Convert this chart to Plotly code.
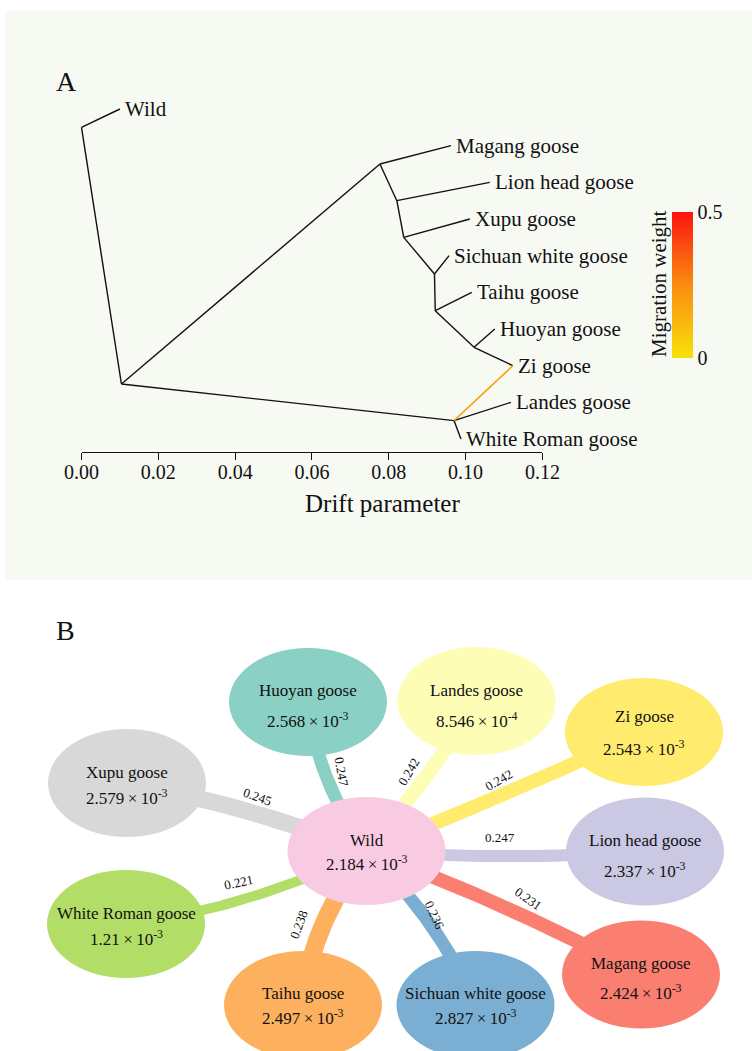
import numpy as np
import plotly.graph_objects as go
from plotly.colors import sample_colorscale

W, H = 752, 1051
SERIF = "Liberation Serif, Times New Roman, serif"

# ---------------- Panel A: TreeMix maximum-likelihood tree ----------------
tip_names = ["Wild", "Magang goose", "Lion head goose", "Xupu goose",
             "Sichuan white goose", "Taihu goose", "Huoyan goose", "Zi goose",
             "Landes goose", "White Roman goose"]
tip_drift = [0.0100, 0.0962, 0.1063, 0.1011, 0.0957, 0.1016, 0.1076, 0.1123,
             0.1118, 0.0988]

# internal node -> (drift, first child, second child)
internal_nodes = {
    "root": (0.0000, "Wild", "n1"),
    "n1": (0.0104, "n2", "n8"),
    "n2": (0.0777, "Magang goose", "n3"),
    "n3": (0.0821, "Lion head goose", "n4"),
    "n4": (0.0839, "Xupu goose", "n5"),
    "n5": (0.0919, "Sichuan white goose", "n6"),
    "n6": (0.0921, "Taihu goose", "n7"),
    "n7": (0.1022, "Huoyan goose", "Zi goose"),
    "n8": (0.0970, "Landes goose", "White Roman goose"),
}

migration_source = "n8"
migration_target = "Zi goose"
migration_weight = 0.18

drift_ticks = [0.00, 0.02, 0.04, 0.06, 0.08, 0.10, 0.12]
weight_ticks = [0, 0.5]

# ---------------- Panel B: Fst network around the wild population ----------------
hub_name = "Wild"
hub_mantissa, hub_exponent = 2.184, -3
breeds = ["Huoyan goose", "Landes goose", "Zi goose", "Lion head goose",
          "Magang goose", "Sichuan white goose", "Taihu goose",
          "White Roman goose", "Xupu goose"]
breed_mantissa = [2.568, 8.546, 2.543, 2.337, 2.424, 2.827, 2.497, 1.21, 2.579]
breed_exponent = [-3, -4, -3, -3, -3, -3, -3, -3, -3]
edge_weight = [0.247, 0.242, 0.242, 0.247, 0.231, 0.236, 0.238, 0.221, 0.245]

# ---------------- styling / layout ----------------
heat_scale = [[0.0, "#f7e20a"], [0.5, "#f98c10"], [1.0, "#fb1510"]]
hub_color = "#f9cbe3"
breed_style = {
    # colour, node offset from hub (px), band width, band bend, label (x, y, angle), text dy
    "Huoyan goose":        ("#8ad0c4", (-58.5, -149), 13, (-22, 0),  (342, 772, 80),  (-12, 18)),
    "Landes goose":        ("#fdfdb6", (110, -150),   14, (10, 0),   (408, 772, -60), (-11, 19)),
    "Zi goose":            ("#ffec6e", (277.5, -119), 14, (0, 4),    (498, 780, -30), (-16, 16)),
    "Lion head goose":     ("#cac8e2", (278.5, 0.5),  12, (0, 10),   (500, 837, 0),   (-11.5, 18.5)),
    "Magang goose":        ("#fb7f71", (274.5, 123.5), 14, (4, -10), (528, 898, 35),  (-11.5, 17.5)),
    "Sichuan white goose": ("#7aaed2", (109, 154),    13, (18, -8),  (435, 915, 65),  (-12, 12)),
    "Taihu goose":         ("#fdb05e", (-63.5, 154),  18, (-26, 0),  (298, 925, -70), (-12, 12)),
    "White Roman goose":   ("#b2dd66", (-240.5, 73),  10, (0, 22),   (238, 882, -12), (-11, 14)),
    "Xupu goose":          ("#d8d8d8", (-239.5, -68), 17, (0, -12),  (257, 796, 20),  (-11, 14)),
}
hub_xy = np.array([366.5, 851.0])
RX, RY = 79, 54


def px(x, y):
    """Pixel position -> paper coordinates."""
    return x / W, 1 - y / H


def tip_indices(node):
    if node in tip_names:
        return [tip_names.index(node)]
    _, a, b = internal_nodes[node]
    return tip_indices(a) + tip_indices(b)


node_x = dict(zip(tip_names, tip_drift))
node_y = {n: float(i) for i, n in enumerate(tip_names)}
for n, (d, a, b) in internal_nodes.items():
    node_x[n] = d
    node_y[n] = (max(tip_indices(a)) + min(tip_indices(b))) / 2

fig = go.Figure()

# light background behind panel A
x0, y1 = px(5, 11)
x1, y0 = px(W, 580)
fig.add_shape(type="rect", xref="paper", yref="paper", x0=x0, x1=1, y0=y0, y1=y1,
              fillcolor="#f7f9f3", line_width=0, layer="below")

# tree branches
bx, by = [], []
for n, (d, a, b) in internal_nodes.items():
    for c in (a, b):
        bx += [node_x[n], node_x[c], None]
        by += [node_y[n], node_y[c], None]
fig.add_trace(go.Scatter(x=bx, y=by, mode="lines", xaxis="x2", yaxis="y2",
                         line=dict(color="#111111", width=1.4), hoverinfo="skip"))

# migration edge
mig_color = sample_colorscale(heat_scale, [migration_weight / 0.5])[0]
fig.add_trace(go.Scatter(x=[node_x[migration_source], node_x[migration_target]],
                         y=[node_y[migration_source], node_y[migration_target]],
                         mode="lines", xaxis="x2", yaxis="y2",
                         line=dict(color=mig_color, width=1.6), hoverinfo="skip"))

# tip labels
for name in tip_names:
    fig.add_annotation(x=node_x[name], y=node_y[name], xref="x2", yref="y2",
                       text=name, showarrow=False, xanchor="left", yanchor="middle",
                       xshift=3, font=dict(family=SERIF, size=21, color="#111111"))

# migration weight colour bar
fig.add_trace(go.Scatter(
    x=[0.05], y=[0.5], mode="markers", xaxis="x", yaxis="y", hoverinfo="skip",
    marker=dict(size=1, opacity=0, color=[0.25], colorscale=heat_scale,
                cmin=0, cmax=0.5, showscale=True,
                colorbar=dict(x=672 / W, xanchor="left", y=1 - 358 / H, yanchor="bottom",
                              lenmode="pixels", len=146, thicknessmode="pixels",
                              thickness=21, xpad=0, ypad=0, outlinewidth=0,
                              tickvals=weight_ticks, ticktext=["0", "0.5"], ticks="",
                              tickfont=dict(family=SERIF, size=20, color="#111111")))))

ax, ay = px(659, 284)
fig.add_annotation(x=ax, y=ay, xref="paper", yref="paper", text="Migration weight",
                   textangle=-90, showarrow=False, xanchor="center", yanchor="middle",
                   font=dict(family=SERIF, size=21, color="#111111"))

ax, ay = px(382, 503)
fig.add_annotation(x=ax, y=ay, xref="paper", yref="paper", text="Drift parameter",
                   showarrow=False, xanchor="center", yanchor="middle",
                   font=dict(family=SERIF, size=25, color="#111111"))

for letter, (lx, ly) in {"A": (54, 82), "B": (54, 630)}.items():
    ax, ay = px(lx, ly)
    fig.add_annotation(x=ax, y=ay, xref="paper", yref="paper", text=letter,
                       showarrow=False, xanchor="left", yanchor="middle",
                       font=dict(family=SERIF, size=28, color="#111111"))


# ---------------- Panel B drawing ----------------
def band_polygon(p0, p2, bend, width, n=60):
    p0 = np.asarray(p0, float)
    p2 = np.asarray(p2, float)
    p1 = (p0 + p2) / 2 + np.asarray(bend, float)
    t = np.linspace(0, 1, n)[:, None]
    pts = (1 - t) ** 2 * p0 + 2 * (1 - t) * t * p1 + t ** 2 * p2
    der = 2 * (1 - t) * (p1 - p0) + 2 * t * (p2 - p1)
    nrm = np.column_stack([-der[:, 1], der[:, 0]])
    nrm /= np.linalg.norm(nrm, axis=1)[:, None]
    left = pts + nrm * width / 2
    right = pts - nrm * width / 2
    poly = np.vstack([left, right[::-1], left[:1]])
    return poly[:, 0], poly[:, 1]


def value_text(m, e):
    return f"{m:g}\u2009×\u200910<sup>{e}</sup>"


node_centres = {}
for name in breeds:
    color, off, width, bend, _, _ = breed_style[name]
    centre = hub_xy + np.array(off)
    node_centres[name] = centre
    xs, ys = band_polygon(hub_xy, centre, bend, width)
    fig.add_trace(go.Scatter(x=xs, y=ys, mode="lines", fill="toself", fillcolor=color,
                             line=dict(width=0, color=color), xaxis="x3", yaxis="y3",
                             hoverinfo="skip"))

ellipses = [(hub_name, hub_xy, hub_color, hub_mantissa, hub_exponent, (-11, 12))]
for name, m, e in zip(breeds, breed_mantissa, breed_exponent):
    color, _, _, _, _, tdy = breed_style[name]
    ellipses.append((name, node_centres[name], color, m, e, tdy))

for name, (cx, cy), color, m, e, (dy1, dy2) in ellipses:
    fig.add_shape(type="circle", xref="x3", yref="y3", x0=cx - RX, x1=cx + RX,
                  y0=cy - RY, y1=cy + RY, fillcolor=color, line_width=0, layer="above")
    fig.add_annotation(x=cx, y=cy + dy1, xref="x3", yref="y3", text=name,
                       showarrow=False, font=dict(family=SERIF, size=17, color="#111111"))
    fig.add_annotation(x=cx, y=cy + dy2, xref="x3", yref="y3", text=value_text(m, e),
                       showarrow=False, font=dict(family=SERIF, size=17, color="#111111"))

for name, w in zip(breeds, edge_weight):
    lx, ly, ang = breed_style[name][4]
    fig.add_annotation(x=lx, y=ly, xref="x3", yref="y3", text=f"{w:.3f}",
                       textangle=ang, showarrow=False,
                       font=dict(family=SERIF, size=13, color="#111111"))

# ---------------- axes ----------------
scale = (542.4 - 81.5) / 0.12          # px per drift unit
tip_gap = (439 - 109) / 9              # px between tips

fig.update_layout(
    width=W, height=H, margin=dict(l=0, r=0, t=0, b=0, pad=0, autoexpand=False),
    paper_bgcolor="white", plot_bgcolor="rgba(0,0,0,0)", showlegend=False,
    xaxis=dict(domain=[81.5 / W, 542.4 / W], range=[0, 0.12], anchor="free",
               position=1 - 452 / H, tickvals=drift_ticks, tickformat=".2f",
               ticks="outside", ticklen=7, tickwidth=1.4, tickcolor="#111111",
               ticklabelstandoff=-5,
               showline=True, linewidth=1.4, linecolor="#111111", showgrid=False,
               zeroline=False, tickfont=dict(family=SERIF, size=20, color="#111111")),
    yaxis=dict(domain=[1 - 580 / H, 1], range=[0, 1], visible=False, anchor="x"),
    xaxis2=dict(domain=[0, 1], range=[-81.5 / scale, (W - 81.5) / scale],
                visible=False, anchor="y2"),
    yaxis2=dict(domain=[1 - 580 / H, 1],
                range=[(580 - 109) / tip_gap, -109 / tip_gap],
                visible=False, anchor="x2"),
    xaxis3=dict(domain=[0, 1], range=[0, W], visible=False, anchor="y3"),
    yaxis3=dict(domain=[0, 1], range=[H, 0], visible=False, anchor="x3"),
)

fig.write_html("out.html")
